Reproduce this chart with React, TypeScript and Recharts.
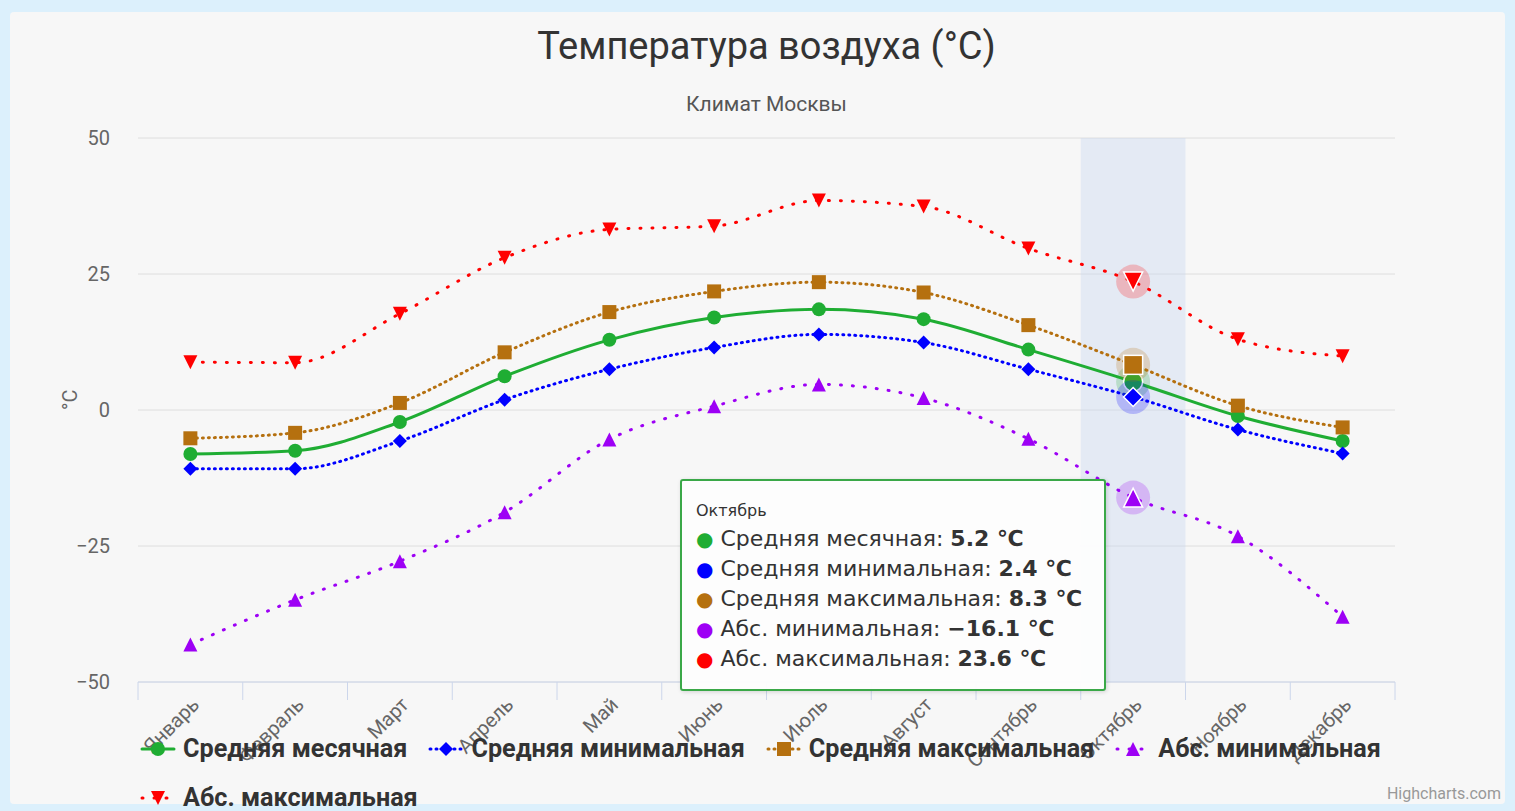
import React from 'react';
import { LineChart, Line, XAxis, YAxis, CartesianGrid, Tooltip, Legend, ReferenceArea } from 'recharts';

const categories = ['Январь', 'Февраль', 'Март', 'Апрель', 'Май', 'Июнь', 'Июль', 'Август', 'Сентябрь', 'Октябрь', 'Ноябрь', 'Декабрь'];
const avg = [-8.1, -7.5, -2.2, 6.2, 12.9, 17.0, 18.5, 16.7, 11.1, 5.2, -1.1, -5.7];
const avgMin = [-10.8, -10.8, -5.7, 1.9, 7.5, 11.5, 13.9, 12.4, 7.5, 2.4, -3.6, -8.0];
const avgMax = [-5.2, -4.2, 1.3, 10.6, 18.0, 21.8, 23.5, 21.6, 15.6, 8.3, 0.8, -3.2];
const absMin = [-43.1, -34.9, -27.8, -18.8, -5.4, 0.7, 4.7, 2.2, -5.3, -16.1, -23.2, -38.0];
const absMax = [8.8, 8.7, 17.7, 28.0, 33.2, 33.8, 38.5, 37.4, 29.7, 23.6, 13.0, 9.9];
const yTicks = [-50, -25, 0, 25, 50];
const activeIndex = 9;

const data = categories.map((month, i) => ({
  month,
  avg: avg[i],
  avgMin: avgMin[i],
  avgMax: avgMax[i],
  absMin: absMin[i],
  absMax: absMax[i],
}));

const series = [
  { key: 'avg', name: 'Средняя месячная', color: '#1fad33', shape: 'circle', dash: undefined },
  { key: 'avgMin', name: 'Средняя минимальная', color: '#0000ff', shape: 'diamond', dash: '1 5' },
  { key: 'avgMax', name: 'Средняя максимальная', color: '#b5700f', shape: 'square', dash: '1 5' },
  { key: 'absMin', name: 'Абс. минимальная', color: '#9d00f5', shape: 'triangle', dash: '1 11' },
  { key: 'absMax', name: 'Абс. максимальная', color: '#ff0000', shape: 'triangle-down', dash: '1 11' },
];

const narrow = "'Roboto', sans-serif";
const wide = "'DejaVu Sans', 'Noto Sans', sans-serif";
const minus = (v: number) => String(v).replace('-', '−');

function Marker({ shape, cx, cy, size, fill, stroke, strokeWidth }: any) {
  const h = size / 2;
  const common = { fill, stroke, strokeWidth };
  if (shape === 'circle') return <circle cx={cx} cy={cy} r={h} {...common} />;
  if (shape === 'square') return <rect x={cx - h} y={cy - h} width={size} height={size} {...common} />;
  if (shape === 'diamond')
    return <polygon points={`${cx},${cy - h} ${cx + h},${cy} ${cx},${cy + h} ${cx - h},${cy}`} {...common} />;
  if (shape === 'triangle')
    return <polygon points={`${cx},${cy - h} ${cx + h},${cy + h} ${cx - h},${cy + h}`} {...common} />;
  return <polygon points={`${cx - h},${cy - h} ${cx + h},${cy - h} ${cx},${cy + h}`} {...common} />;
}

const dotFor = (s: any) => (p: any) => {
  if (p.cy == null || p.cx == null) return <g key={p.index} />;
  return <Marker key={p.index} shape={s.shape} cx={p.cx} cy={p.cy} size={14} fill={s.color} />;
};

const activeDotFor = (s: any) => (p: any) => {
  if (p.cy == null || p.cx == null) return <g />;
  return (
    <g>
      <circle cx={p.cx} cy={p.cy} r={17} fill={s.color} fillOpacity={0.22} />
      <Marker shape={s.shape} cx={p.cx} cy={p.cy} size={19} fill={s.color} stroke="#ffffff" strokeWidth={1.5} />
    </g>
  );
};

// category label plus the tick marks on the band edges, Highcharts style
function XTick({ x, y, payload, index }: any) {
  const half = payload.offset || 0;
  const ax = x + 10;
  const ay = y + 24;
  return (
    <g>
      <line x1={x - half} y1={y} x2={x - half} y2={y + 18} stroke="#ccd6eb" />
      {index === categories.length - 1 && <line x1={x + half} y1={y} x2={x + half} y2={y + 18} stroke="#ccd6eb" />}
      <text x={ax} y={ay} transform={`rotate(-45 ${ax} ${ay})`} textAnchor="end" fill="#666666" fontSize={20} fontFamily={narrow}>
        {payload.value}
      </text>
    </g>
  );
}

function TooltipBox({ payload, label }: any) {
  if (!payload || !payload.length) return null;
  return (
    <div
      style={{
        background: 'rgba(253,253,253,0.96)',
        border: '2px solid #3aa848',
        borderRadius: 3,
        boxShadow: '1px 1px 4px rgba(0,0,0,0.15)',
        padding: '20px 22px 15px 14px',
        fontFamily: wide,
        color: '#333333',
        whiteSpace: 'nowrap',
      }}
    >
      <div style={{ fontSize: 16, marginBottom: 4 }}>{label}</div>
      {series.map((s) => {
        const item = payload.find((it: any) => it.dataKey === s.key);
        return (
          <div key={s.key} style={{ fontSize: 22, lineHeight: '30px' }}>
            <span style={{ color: s.color, fontSize: 20 }}>●</span> {s.name}:{' '}
            <b>{item ? minus(item.value) : ''} ℃</b>
          </div>
        );
      })}
    </div>
  );
}

function LegendSymbol({ s }: any) {
  return (
    <svg width={36} height={20} style={{ marginRight: 7, flex: 'none' }}>
      <line x1={2} y1={10} x2={34} y2={10} stroke={s.color} strokeWidth={3} strokeDasharray={s.dash} strokeLinecap="round" />
      <Marker shape={s.shape} cx={18} cy={10} size={14} fill={s.color} />
    </svg>
  );
}

function LegendBox() {
  return (
    <div style={{ display: 'flex', flexWrap: 'wrap', rowGap: 20, columnGap: 21, fontFamily: narrow, fontWeight: 700, fontSize: 25.2, color: '#333333' }}>
      {series.map((s) => (
        <div key={s.key} style={{ display: 'flex', alignItems: 'center', height: 29 }}>
          <LegendSymbol s={s} />
          <span>{s.name}</span>
        </div>
      ))}
    </div>
  );
}

export default function App() {
  return (
    <div style={{ position: 'absolute', left: 0, top: 0, width: 1515, height: 811, background: '#dcf0fc', overflow: 'hidden' }}>
      <div style={{ position: 'absolute', left: 10, top: 12, width: 1495, height: 792, background: '#f7f7f7', borderRadius: 4 }}>
        <div style={{ position: 'absolute', left: 128, width: 1257, top: 12, textAlign: 'center', fontFamily: narrow, fontSize: 38, color: '#333333' }}>
          Температура воздуха (°C)
        </div>
        <div style={{ position: 'absolute', left: 128, width: 1257, top: 80, textAlign: 'center', fontFamily: narrow, fontSize: 21, color: '#555555' }}>
          Климат Москвы
        </div>
        <LineChart width={1495} height={790} data={data} margin={{ top: 126, right: 110, left: 0, bottom: 0 }}>
          <CartesianGrid vertical={false} stroke="#dedede" />
          <ReferenceArea x1={categories[activeIndex]} x2={categories[activeIndex]} fill="#ccd9f0" fillOpacity={0.45} stroke="none" />
          <XAxis
            dataKey="month"
            scale="band"
            tick={<XTick />}
            tickLine={false}
            axisLine={{ stroke: '#ccd6eb' }}
            tickSize={0}
            tickMargin={0}
            height={120}
            interval={0}
          />
          <YAxis
            domain={[-50, 50]}
            ticks={yTicks}
            width={128}
            axisLine={false}
            tickLine={false}
            tickSize={0}
            tickMargin={28}
            tickFormatter={minus}
            tick={{ fill: '#666666', fontSize: 20, fontFamily: narrow }}
            label={{ value: '°C', angle: -90, position: 'insideLeft', offset: 60, fill: '#666666', fontSize: 20, fontFamily: narrow }}
          />
          <Tooltip
            active
            defaultIndex={activeIndex}
            cursor={false}
            position={{ x: 670, y: 467 }}
            content={<TooltipBox />}
            isAnimationActive={false}
            wrapperStyle={{ zIndex: 5 }}
          />
          <Legend
            verticalAlign="middle"
            align="center"
            layout="horizontal"
            content={<LegendBox />}
            wrapperStyle={{ left: 130, top: 722, width: 1300, height: 'auto' }}
          />
          {series.map((s) => (
            <Line
              key={s.key}
              type="monotone"
              dataKey={s.key}
              name={s.name}
              stroke={s.color}
              strokeWidth={3}
              strokeDasharray={s.dash}
              strokeLinecap="round"
              dot={dotFor(s)}
              activeDot={activeDotFor(s)}
              isAnimationActive={false}
            />
          ))}
        </LineChart>
        <div style={{ position: 'absolute', right: 4, top: 772, fontFamily: narrow, fontSize: 16, color: '#999999' }}>Highcharts.com</div>
      </div>
    </div>
  );
}
